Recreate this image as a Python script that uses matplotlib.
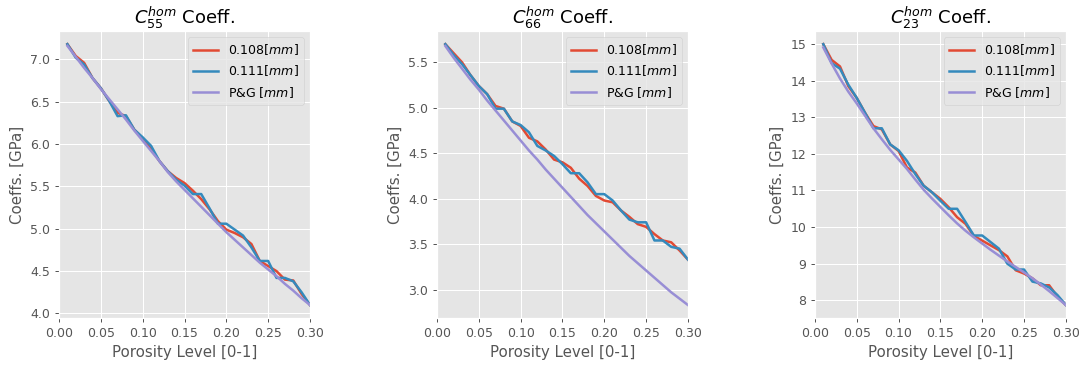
import numpy as np
import matplotlib
matplotlib.use("Agg")
import matplotlib.pyplot as plt

plt.style.use("ggplot")

# porosity levels 0.01 ... 0.30
porosidade = [0.01, 0.02, 0.03, 0.04, 0.05, 0.06, 0.07, 0.08, 0.09, 0.10,
              0.11, 0.12, 0.13, 0.14, 0.15, 0.16, 0.17, 0.18, 0.19, 0.20,
              0.21, 0.22, 0.23, 0.24, 0.25, 0.26, 0.27, 0.28, 0.29, 0.30]

# C55
c55_108 = [7.18, 7.04, 6.96, 6.78, 6.66, 6.51, 6.37, 6.33, 6.17, 6.07,
           5.94, 5.80, 5.68, 5.60, 5.54, 5.45, 5.35, 5.23, 5.09, 4.99,
           4.95, 4.90, 4.82, 4.62, 4.56, 4.50, 4.40, 4.39, 4.23, 4.10]
c55_111 = [7.18, 7.02, 6.94, 6.78, 6.66, 6.51, 6.33, 6.34, 6.17, 6.08,
           5.98, 5.80, 5.68, 5.58, 5.51, 5.41, 5.41, 5.24, 5.06, 5.06,
           4.99, 4.92, 4.78, 4.62, 4.62, 4.42, 4.42, 4.38, 4.25, 4.10]
c55_pg = [7.16, 7.03, 6.90, 6.78, 6.65, 6.53, 6.41, 6.29, 6.16, 6.04,
          5.92, 5.80, 5.67, 5.56, 5.46, 5.36, 5.26, 5.16, 5.06, 4.96,
          4.87, 4.78, 4.69, 4.60, 4.52, 4.44, 4.35, 4.27, 4.18, 4.10]

# C66
c66_108 = [5.70, 5.60, 5.50, 5.36, 5.24, 5.15, 5.02, 4.99, 4.85, 4.80,
           4.67, 4.63, 4.54, 4.43, 4.40, 4.34, 4.22, 4.14, 4.03, 3.98,
           3.96, 3.87, 3.80, 3.72, 3.69, 3.61, 3.54, 3.52, 3.43, 3.33]
c66_111 = [5.70, 5.58, 5.48, 5.36, 5.24, 5.15, 4.99, 4.99, 4.85, 4.81,
           4.73, 4.58, 4.53, 4.47, 4.38, 4.28, 4.28, 4.18, 4.05, 4.05,
           3.98, 3.87, 3.77, 3.74, 3.74, 3.54, 3.54, 3.47, 3.45, 3.33]
c66_pg = [5.68, 5.55, 5.43, 5.31, 5.20, 5.08, 4.97, 4.86, 4.75, 4.64,
          4.53, 4.43, 4.32, 4.22, 4.12, 4.02, 3.92, 3.82, 3.73, 3.64,
          3.55, 3.46, 3.37, 3.29, 3.21, 3.13, 3.05, 2.97, 2.90, 2.83]

# C23
c23_108 = [15.00, 14.57, 14.39, 13.85, 13.53, 13.12, 12.76, 12.67, 12.26, 12.08,
           11.63, 11.49, 11.13, 10.95, 10.77, 10.54, 10.27, 10.09, 9.76, 9.63,
           9.50, 9.37, 9.20, 8.82, 8.73, 8.60, 8.41, 8.41, 8.10, 7.87]
c23_111 = [15.00, 14.48, 14.33, 13.89, 13.53, 13.12, 12.70, 12.70, 12.26, 12.10,
           11.81, 11.45, 11.13, 10.95, 10.72, 10.50, 10.50, 10.14, 9.77, 9.77,
           9.59, 9.41, 9.00, 8.84, 8.84, 8.51, 8.46, 8.35, 8.14, 7.87]
c23_pg = [14.91, 14.47, 14.06, 13.70, 13.38, 13.04, 12.70, 12.40, 12.11, 11.85,
          11.59, 11.30, 11.02, 10.78, 10.55, 10.32, 10.10, 9.90, 9.72, 9.55,
          9.38, 9.22, 9.06, 8.91, 8.76, 8.60, 8.43, 8.25, 8.06, 7.87]

coefs = [("55", c55_108, c55_111, c55_pg),
         ("66", c66_108, c66_111, c66_pg),
         ("23", c23_108, c23_111, c23_pg)]

fig, axs = plt.subplots(1, 3, figsize=(1081 / 90, 366 / 90), dpi=90)

for ax, (nome, a, b, pg) in zip(axs, coefs):
    ax.plot(porosidade, a, lw=2, label="0.108$[mm]$")
    ax.plot(porosidade, b, lw=2, label="0.111$[mm]$")
    ax.plot(porosidade, pg, lw=2, label="P&G $[mm]$")
    ax.set_xlim(0, 0.3)
    ax.set_title("$C_{%s}^{hom}$ Coeff." % nome)
    ax.set_xlabel("Porosity Level [0-1]")
    ax.set_ylabel("Coeffs. [GPa]")
    ax.legend(loc="upper right")

plt.subplots_adjust(left=0.0546, right=0.986, bottom=0.131, top=0.915, wspace=0.506)
plt.savefig("out.png")
